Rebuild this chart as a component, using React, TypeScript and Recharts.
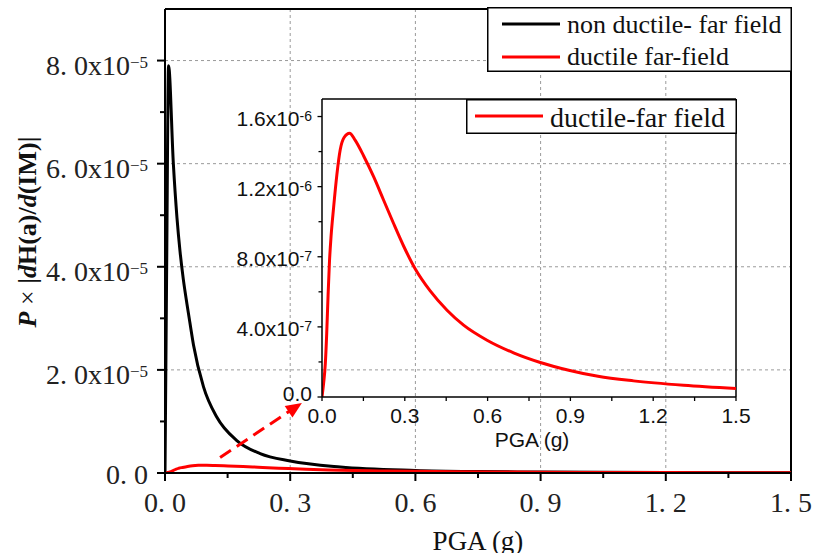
import React from 'react';
import { LineChart, Line, XAxis, YAxis, CartesianGrid, ReferenceLine, Legend } from 'recharts';

// ---------- data ----------
const nonDuctileX = [0, 0.004, 0.0085, 0.02, 0.0287, 0.036, 0.044, 0.0526, 0.06, 0.0684, 0.0923, 0.124, 0.172, 0.228, 0.3, 0.42, 0.6, 0.75, 0.9, 1.2, 1.5];
const nonDuctileY = [0, 4.0e-5, 7.9e-5, 6.0e-5, 4.95e-5, 4.3e-5, 3.75e-5, 3.28e-5, 2.9e-5, 2.48e-5, 1.67e-5, 1.085e-5, 6.3e-6, 3.76e-6, 2.33e-6, 1.16e-6, 5.0e-7, 2.8e-7, 1.8e-7, 8.5e-8, 4.5e-8];

const ductileX = [0, 0.006, 0.012, 0.017, 0.022, 0.027, 0.033, 0.042, 0.054, 0.066, 0.08, 0.1, 0.12, 0.151, 0.187, 0.223, 0.259, 0.296, 0.338, 0.392, 0.453, 0.513, 0.598, 0.694, 0.791, 0.894, 1.0, 1.129, 1.31, 1.5];
const ductileY = [0, 8e-8, 1.9e-7, 3.6e-7, 5.8e-7, 7.7e-7, 9.2e-7, 1.08e-6, 1.27e-6, 1.41e-6, 1.48e-6, 1.505e-6, 1.465e-6, 1.375e-6, 1.257e-6, 1.124e-6, 9.91e-7, 8.6e-7, 7.3e-7, 6.05e-7, 4.95e-7, 4.1e-7, 3.24e-7, 2.52e-7, 1.97e-7, 1.53e-7, 1.18e-7, 9.2e-8, 6.7e-8, 4.8e-8];

const seriesNames = ['non ductile- far field', 'ductile far-field'];
const insetSeriesName = 'ductile-far field';

// outer axes
const outerXMajor = [0, 0.3, 0.6, 0.9, 1.2, 1.5];
const outerXMinor = [0.15, 0.45, 0.75, 1.05, 1.35];
const outerXLabels = ['0. 0', '0. 3', '0. 6', '0. 9', '1. 2', '1. 5'];
const outerYMajor = [0, 2e-5, 4e-5, 6e-5, 8e-5];
const outerYMinor = [1e-5, 3e-5, 5e-5, 7e-5];
const outerYMantissa = ['0. 0', '2. 0', '4. 0', '6. 0', '8. 0'];
const outerYExp = ['', '\u22125', '\u22125', '\u22125', '\u22125'];
const outerYDomain = [0, 9e-5];
const outerXTitle = 'PGA (g)';

// inset axes
const insetXMajor = [0, 0.3, 0.6, 0.9, 1.2, 1.5];
const insetXMinor = [0.15, 0.45, 0.75, 1.05, 1.35];
const insetXLabels = ['0.0', '0.3', '0.6', '0.9', '1.2', '1.5'];
const insetYMajor = [0, 4e-7, 8e-7, 1.2e-6, 1.6e-6];
const insetYMinor = [2e-7, 6e-7, 1.0e-6, 1.4e-6];
const insetYMantissa = ['0.0', '4.0', '8.0', '1.2', '1.6'];
const insetYExp = ['', '-7', '-7', '-6', '-6'];
const insetYDomain = [0, 1.7e-6];
const insetXTitle = 'PGA (g)';

// arrow annotation (data coordinates of outer chart)
const arrowFrom = { x: 0.132, y: 3.0e-6 };
const arrowTo = { x: 0.328, y: 1.36e-5 };

const nonDuctileData = nonDuctileX.map((x, i) => ({ pga: x, v: nonDuctileY[i] }));
const ductileData = ductileX.map((x, i) => ({ pga: x, v: ductileY[i] }));

const SERIF = '"Liberation Serif", "Times New Roman", serif';
const SANS = '"Liberation Sans", Arial, sans-serif';
const sortNum = (a: number[]) => [...a].sort((p, q) => p - q);
const idxOf = (arr: number[], v: number) => arr.findIndex((t) => Math.abs(t - v) < 1e-12);

// ---------- outer ticks ----------
const OuterXTick = (props: any) => {
  const { x, y, payload } = props;
  const i = idxOf(outerXMajor, payload.value);
  const major = i >= 0;
  return (
    <g>
      <line x1={x} x2={x} y1={y} y2={y + (major ? 8 : 5)} stroke="#000" strokeWidth={2} />
      {major && (
        <text x={x} y={y + 39} textAnchor="middle" fontFamily={SERIF} fontSize={28} fill="#222">
          {outerXLabels[i]}
        </text>
      )}
    </g>
  );
};

const OuterYTick = (props: any) => {
  const { x, y, payload } = props;
  const i = idxOf(outerYMajor, payload.value);
  const major = i >= 0;
  return (
    <g>
      <line x1={x - (major ? 8 : 5)} x2={x} y1={y} y2={y} stroke="#000" strokeWidth={2} />
      {major && (
        <text x={x - 17} y={y + (i === 0 ? 10.5 : 14)} textAnchor="end" fontFamily={SERIF} fontSize={28} fill="#222">
          {outerYMantissa[i]}
          {outerYExp[i] && (
            <>
              <tspan>x10</tspan>
              <tspan fontSize={17} dy={-7}>{outerYExp[i]}</tspan>
            </>
          )}
        </text>
      )}
    </g>
  );
};

// ---------- inset ticks ----------
const InsetXTick = (props: any) => {
  const { x, y, payload } = props;
  const i = idxOf(insetXMajor, payload.value);
  const major = i >= 0;
  return (
    <g>
      <line x1={x} x2={x} y1={y} y2={y + 4} stroke="#000" strokeWidth={1.3} />
      {major && (
        <text x={x} y={y + 26} textAnchor="middle" fontFamily={SANS} fontSize={21} fill="#111">
          {insetXLabels[i]}
        </text>
      )}
    </g>
  );
};

const InsetYTick = (props: any) => {
  const { x, y, payload } = props;
  const i = idxOf(insetYMajor, payload.value);
  const major = i >= 0;
  return (
    <g>
      <line x1={x - (major ? 4.5 : 3.5)} x2={x} y1={y} y2={y} stroke="#000" strokeWidth={1.3} />
      {major && (
        <text x={x - 10} y={y + (i === 0 ? 4 : 9)} textAnchor="end" fontFamily={SANS} fontSize={21} fill="#111">
          {insetYMantissa[i]}
          {insetYExp[i] && (
            <>
              <tspan>x10</tspan>
              <tspan fontSize={14} dy={-5}>{insetYExp[i]}</tspan>
            </>
          )}
        </text>
      )}
    </g>
  );
};

// ---------- labels ----------
const OuterXTitle = (props: any) => {
  const vb = props.viewBox || {};
  return (
    <text x={vb.x + vb.width / 2} y={vb.y + 77} textAnchor="middle" fontFamily={SERIF} fontSize={27} fill="#111">
      {outerXTitle}
    </text>
  );
};

const OuterYTitle = (props: any) => {
  const vb = props.viewBox || {};
  const cx = vb.x + 36;
  const cy = vb.y + vb.height / 2 - 9;
  return (
    <text x={cx} y={cy} transform={`rotate(-90, ${cx}, ${cy})`} textAnchor="middle" fontFamily={SERIF} fontSize={26} fontWeight="bold" fill="#111">
      <tspan fontStyle="italic">P</tspan>
      <tspan fontWeight="normal">{' \u00d7 '}</tspan>
      <tspan>|</tspan>
      <tspan fontStyle="italic">d</tspan>
      <tspan>H(a)/</tspan>
      <tspan fontStyle="italic">d</tspan>
      <tspan>(IM)|</tspan>
    </text>
  );
};

const InsetXTitle = (props: any) => {
  const vb = props.viewBox || {};
  return (
    <text x={vb.x + vb.width / 2 + 3} y={vb.y + 50} textAnchor="middle" fontFamily={SANS} fontSize={21} fill="#111">
      {insetXTitle}
    </text>
  );
};

// ---------- arrow ----------
const ArrowShape = (props: any) => {
  const { x1, y1, x2, y2 } = props;
  const dx = x2 - x1;
  const dy = y2 - y1;
  const len = Math.sqrt(dx * dx + dy * dy) || 1;
  const ux = dx / len;
  const uy = dy / len;
  const headLen = 16;
  const headHalf = 7;
  const bx = x2 - ux * headLen;
  const by = y2 - uy * headLen;
  const px = -uy;
  const py = ux;
  return (
    <g>
      <line x1={x1} y1={y1} x2={bx + ux * 2} y2={by + uy * 2} stroke="#ff0000" strokeWidth={3} strokeDasharray="13 7" />
      <polygon
        points={`${x2},${y2} ${bx + px * headHalf},${by + py * headHalf} ${bx - px * headHalf},${by - py * headHalf}`}
        fill="#ff0000"
      />
    </g>
  );
};

// ---------- legends ----------
const orderPayload = (payload: any[], names: string[]) =>
  [...payload].sort((a, b) => names.indexOf(a.value) - names.indexOf(b.value));

const OuterLegend = (props: any) => {
  const payload = orderPayload(props.payload || [], seriesNames);
  return (
    <svg width={305} height={65} style={{ display: 'block' }}>
      <rect x={0.75} y={0.75} width={303.5} height={63.5} fill="#fff" stroke="#000" strokeWidth={1.5} />
      {payload.map((e: any, i: number) => (
        <g key={i}>
          <line x1={15} x2={73} y1={17 + i * 33} y2={17 + i * 33} stroke={e.color} strokeWidth={3} />
          <text x={80} y={26 + i * 32} fontFamily={SERIF} fontSize={26} fill="#111">
            {e.value}
          </text>
        </g>
      ))}
    </svg>
  );
};

const InsetLegend = (props: any) => {
  const payload = props.payload || [];
  return (
    <svg width={271} height={35} style={{ display: 'block' }}>
      <rect x={0.75} y={0.75} width={269.5} height={33.5} fill="#fff" stroke="#000" strokeWidth={1.5} />
      {payload.map((e: any, i: number) => (
        <g key={i}>
          <line x1={9} x2={77} y1={17} y2={17} stroke={e.color} strokeWidth={3} />
          <text x={84} y={27.5} fontFamily={SERIF} fontSize={28} fill="#111">
            {e.value}
          </text>
        </g>
      ))}
    </svg>
  );
};

export default function App() {
  return (
    <div style={{ position: 'absolute', left: 0, top: 0, width: 815, height: 553, background: '#fff', overflow: 'hidden' }}>
      {/* main chart */}
      <div style={{ position: 'absolute', left: 0, top: 0 }}>
        <LineChart width={815} height={553} margin={{ top: 9, right: 24, bottom: 20, left: 0 }}>
          <CartesianGrid
            stroke="#9a9a9a"
            strokeDasharray="3 3"
            horizontalValues={outerYMajor.slice(1)}
            verticalValues={outerXMajor.slice(1, -1)}
          />
          <XAxis
            type="number"
            dataKey="pga"
            domain={[outerXMajor[0], outerXMajor[outerXMajor.length - 1]]}
            ticks={sortNum([...outerXMajor, ...outerXMinor])}
            interval={0}
            tickSize={0}
            tickMargin={0}
            tickLine={false}
            axisLine={{ stroke: '#000', strokeWidth: 2 }}
            tick={(p: any) => <OuterXTick {...p} />}
            height={60}
            allowDataOverflow
            label={(p: any) => <OuterXTitle {...p} />}
          />
          <YAxis
            type="number"
            domain={outerYDomain}
            ticks={sortNum([...outerYMajor, ...outerYMinor])}
            interval={0}
            tickSize={0}
            tickMargin={0}
            tickLine={false}
            axisLine={{ stroke: '#000', strokeWidth: 2 }}
            tick={(p: any) => <OuterYTick {...p} />}
            width={165}
            allowDataOverflow
            label={(p: any) => <OuterYTitle {...p} />}
          />
          <ReferenceLine y={outerYDomain[1]} stroke="#000" strokeWidth={2} />
          <ReferenceLine x={outerXMajor[outerXMajor.length - 1]} stroke="#000" strokeWidth={2} />
          <Line
            data={nonDuctileData}
            dataKey="v"
            name={seriesNames[0]}
            type="monotone"
            stroke="#000000"
            strokeWidth={3}
            dot={false}
            activeDot={false}
            isAnimationActive={false}
          />
          <Line
            data={ductileData}
            dataKey="v"
            name={seriesNames[1]}
            type="monotone"
            stroke="#ff0000"
            strokeWidth={3}
            dot={false}
            activeDot={false}
            isAnimationActive={false}
          />
          <ReferenceLine segment={[arrowFrom, arrowTo]} shape={(p: any) => <ArrowShape {...p} />} />
          <Legend
            layout="vertical"
            align="center"
            verticalAlign="middle"
            content={(p: any) => <OuterLegend {...p} />}
            wrapperStyle={{ position: 'absolute', left: 487, top: 7, width: 305, height: 65 }}
          />
        </LineChart>
      </div>
      {/* inset chart */}
      <div style={{ position: 'absolute', left: 0, top: 0 }}>
        <LineChart width={815} height={553} margin={{ top: 99, right: 79, bottom: 96, left: 0 }}>
          <XAxis
            type="number"
            dataKey="pga"
            domain={[insetXMajor[0], insetXMajor[insetXMajor.length - 1]]}
            ticks={sortNum([...insetXMajor, ...insetXMinor])}
            interval={0}
            tickSize={0}
            tickMargin={0}
            tickLine={false}
            axisLine={{ stroke: '#000', strokeWidth: 1.5 }}
            tick={(p: any) => <InsetXTick {...p} />}
            height={60}
            allowDataOverflow
            label={(p: any) => <InsetXTitle {...p} />}
          />
          <YAxis
            type="number"
            domain={insetYDomain}
            ticks={sortNum([...insetYMajor, ...insetYMinor])}
            interval={0}
            tickSize={0}
            tickMargin={0}
            tickLine={false}
            axisLine={{ stroke: '#000', strokeWidth: 1.5 }}
            tick={(p: any) => <InsetYTick {...p} />}
            width={322}
            allowDataOverflow
          />
          <ReferenceLine y={insetYDomain[1]} stroke="#000" strokeWidth={1.5} />
          <ReferenceLine x={insetXMajor[insetXMajor.length - 1]} stroke="#000" strokeWidth={1.5} />
          <Line
            data={ductileData}
            dataKey="v"
            name={insetSeriesName}
            type="monotone"
            stroke="#ff0000"
            strokeWidth={3}
            dot={false}
            activeDot={false}
            isAnimationActive={false}
          />
          <Legend
            layout="vertical"
            align="center"
            verticalAlign="middle"
            content={(p: any) => <InsetLegend {...p} />}
            wrapperStyle={{ position: 'absolute', left: 466, top: 99, width: 271, height: 35 }}
          />
        </LineChart>
      </div>
    </div>
  );
}
